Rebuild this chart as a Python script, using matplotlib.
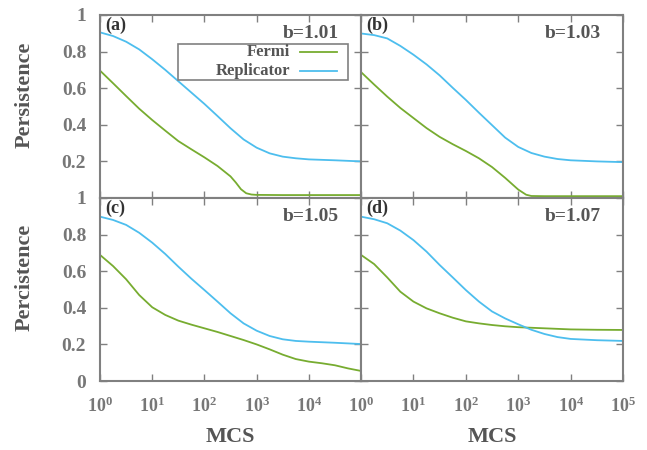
import numpy as np
import matplotlib
matplotlib.use("Agg")
import matplotlib.pyplot as plt
from matplotlib.patches import Rectangle
from matplotlib.lines import Line2D

plt.rcParams['font.family'] = ['Liberation Serif', 'DejaVu Serif']
plt.rcParams['mathtext.fontset'] = 'custom'
plt.rcParams['mathtext.rm'] = 'Liberation Serif'
plt.rcParams['mathtext.bf'] = 'Liberation Serif:bold'

# MCS sampled every quarter decade (log10 exponents)
log_q = [0, 0.25, 0.5, 0.75, 1, 1.25, 1.5, 1.75, 2, 2.25, 2.5, 2.75,
         3, 3.25, 3.5, 3.75, 4, 4.5, 5]

# (a) b=1.01
rep_a = [0.905, 0.885, 0.854, 0.812, 0.758, 0.70, 0.638, 0.576, 0.514, 0.448,
         0.381, 0.32, 0.275, 0.244, 0.226, 0.217, 0.211, 0.206, 0.20]
fermi_a_log = [0, 0.25, 0.5, 0.75, 1, 1.25, 1.5, 1.75, 2, 2.25, 2.5, 2.6,
               2.7, 2.8, 2.9, 3, 3.5, 4, 4.5, 5]
fermi_a = [0.696, 0.627, 0.557, 0.488, 0.426, 0.368, 0.311, 0.266, 0.222, 0.175,
           0.118, 0.085, 0.048, 0.026, 0.019, 0.017, 0.016, 0.016, 0.016, 0.016]

# (b) b=1.03
rep_b = [0.899, 0.89, 0.872, 0.831, 0.783, 0.73, 0.67, 0.602, 0.536, 0.466,
         0.398, 0.33, 0.279, 0.246, 0.226, 0.213, 0.206, 0.20, 0.196]
fermi_b_log = [0, 0.25, 0.5, 0.75, 1, 1.25, 1.5, 1.75, 2, 2.25, 2.5, 2.75,
               3, 3.15, 3.25, 3.5, 4, 4.5, 5]
fermi_b = [0.688, 0.62, 0.554, 0.492, 0.437, 0.382, 0.334, 0.294, 0.257, 0.217,
           0.169, 0.11, 0.046, 0.018, 0.011, 0.01, 0.01, 0.01, 0.01]

# (c) b=1.05
rep_c = [0.898, 0.88, 0.853, 0.81, 0.756, 0.694, 0.625, 0.559, 0.497, 0.434,
         0.37, 0.315, 0.275, 0.246, 0.228, 0.219, 0.215, 0.209, 0.202]
fermi_c_log = [0, 0.25, 0.5, 0.75, 1, 1.25, 1.5, 1.75, 2, 2.25, 2.5, 2.75,
               3, 3.25, 3.5, 3.75, 4, 4.25, 4.5, 4.75, 5]
fermi_c = [0.689, 0.628, 0.556, 0.47, 0.403, 0.361, 0.33, 0.308, 0.288, 0.268,
           0.246, 0.224, 0.20, 0.173, 0.144, 0.12, 0.106, 0.097, 0.086, 0.069, 0.055]

# (d) b=1.07
rep_d = [0.898, 0.884, 0.862, 0.822, 0.77, 0.707, 0.634, 0.566, 0.497, 0.434,
         0.38, 0.342, 0.31, 0.28, 0.257, 0.24, 0.23, 0.223, 0.219]
fermi_d = [0.689, 0.639, 0.566, 0.488, 0.434, 0.397, 0.37, 0.346, 0.326, 0.315,
           0.306, 0.299, 0.294, 0.291, 0.288, 0.285, 0.282, 0.28, 0.279]

panels = [
    ('(a)', 'b=1.01', log_q, rep_a, fermi_a_log, fermi_a),
    ('(b)', 'b=1.03', log_q, rep_b, fermi_b_log, fermi_b),
    ('(c)', 'b=1.05', log_q, rep_c, fermi_c_log, fermi_c),
    ('(d)', 'b=1.07', log_q, rep_d, log_q, fermi_d),
]

green = '#77ac30'
cyan = '#4dbeee'
grey = '#808080'
txt = '#555555'
ticktxt = '#777777'

fig = plt.figure(figsize=(6.47, 4.5), dpi=100)
x0, xm, x1 = 0.1546, 0.558, 0.963
y0, ym, y1 = 0.1533, 0.56, 0.9667
rects = [
    [x0, ym, xm - x0, y1 - ym],
    [xm, ym, x1 - xm, y1 - ym],
    [x0, y0, xm - x0, ym - y0],
    [xm, y0, x1 - xm, ym - y0],
]

xticks = [1, 10, 100, 1000, 10000, 100000]
xlabels = [r'$\mathbf{10^{%d}}$' % i for i in range(6)]

for i, (tag, blabel, rlog, ry, flog, fy) in enumerate(panels):
    ax = fig.add_axes(rects[i])
    ax.plot(10 ** np.array(flog), fy, color=green, lw=1.3)
    ax.plot(10 ** np.array(rlog), ry, color=cyan, lw=1.3)
    ax.set_xscale('log')
    ax.set_xlim(1, 1e5)
    ax.set_ylim(0, 1)
    ax.set_xticks(xticks)
    ax.minorticks_off()
    ax.set_yticks([0, 0.2, 0.4, 0.6, 0.8, 1])
    ax.tick_params(direction='in', length=5, width=1, color=grey,
                   top=True, right=True, labelcolor=ticktxt)
    ax.tick_params(axis='x', pad=11, labelsize=13)
    ax.tick_params(axis='y', pad=10, labelsize=14)
    for s in ax.spines.values():
        s.set_color(grey)
        s.set_linewidth(1.5)

    if i in (0, 1):
        ax.set_xticklabels([])
    else:
        labs = list(xlabels)
        if i == 2:
            labs[-1] = ''
        ax.set_xticklabels(labs)
        ax.set_xlabel('MCS', fontsize=16, fontweight='bold', color=txt, labelpad=8)

    if i in (1, 3):
        ax.set_yticklabels([])
    else:
        ylabs = ['0', '0.2', '0.4', '0.6', '0.8', '1']
        if i == 0:
            ylabs[0] = ''
        ax.set_yticklabels(ylabs, fontweight='bold')
        ax.set_ylabel('Persistence' if i == 0 else 'Percistence',
                      fontsize=16, fontweight='bold', color=txt)
        ax.yaxis.set_label_coords(-0.29, 0.565)
        ax.yaxis.label.set_va('center')
        ax.yaxis.label.set_ha('center')

    ax.text(0.02, 0.945, tag, transform=ax.transAxes, fontsize=13,
            fontweight='bold', color='#333333', va='center', ha='left')
    ax.text(0.915, 0.90, blabel, transform=ax.transAxes, fontsize=14,
            fontweight='bold', color=txt, va='center', ha='right')

    if i == 0:
        # key box with right-aligned entries and line samples
        ax.add_patch(Rectangle((0.299, 0.645), 0.651, 0.197, transform=ax.transAxes,
                               facecolor='white', edgecolor=grey, lw=1.2, zorder=5))
        for lab, col, ty, ly in [('Fermi', green, 0.776, 0.798),
                                 ('Replicator', cyan, 0.672, 0.694)]:
            ax.text(0.728, ty, lab, transform=ax.transAxes, fontsize=12,
                    fontweight='bold', color=txt, ha='right', va='baseline', zorder=6)
            ax.add_line(Line2D([0.766, 0.908], [ly, ly], transform=ax.transAxes,
                               color=col, lw=1.3, zorder=6))

fig.savefig('out.png', dpi=100)
